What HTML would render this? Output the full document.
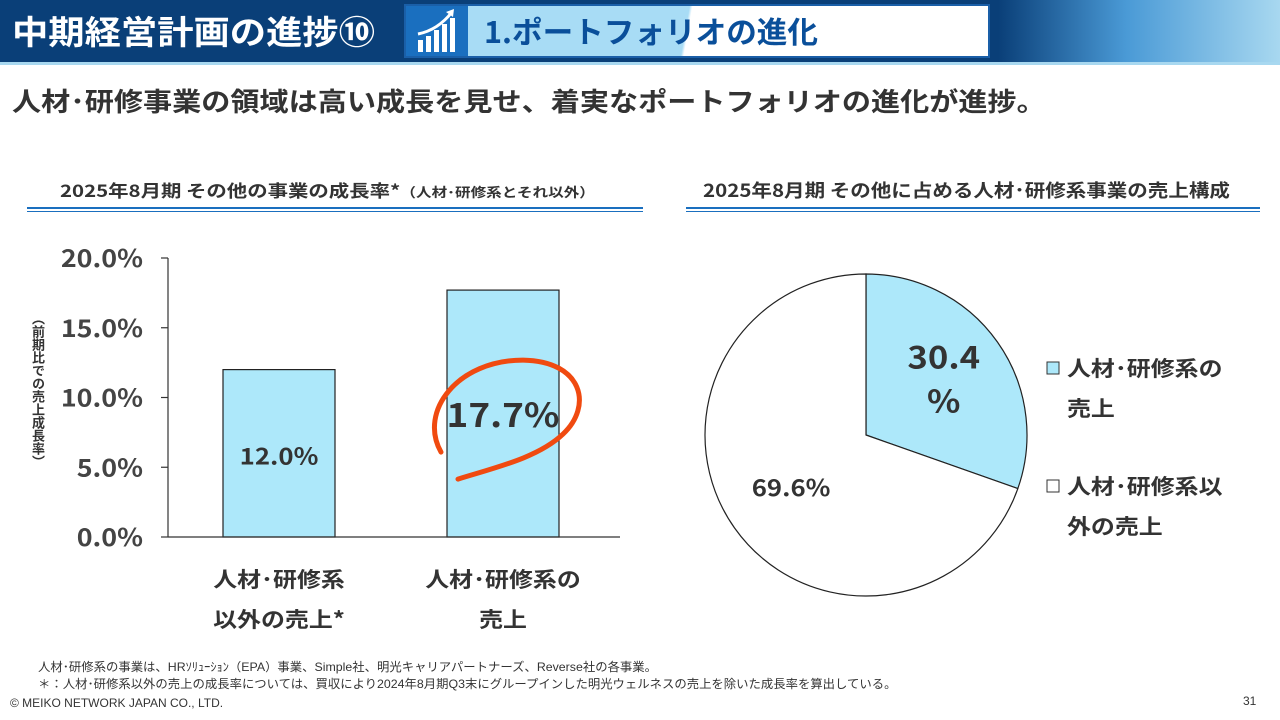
<!DOCTYPE html>
<html><head><meta charset="utf-8"><style>
body{margin:0;width:1280px;height:720px;position:relative;background:#fff;font-family:"Liberation Sans","Noto Sans CJK JP",sans-serif;overflow:hidden;color:#333}
.a{position:absolute;white-space:nowrap}
.s{transform-origin:0 0}
</style></head><body>
<div class="a" style="left:0;top:0;width:1280px;height:62px;background:linear-gradient(90deg,#0a3f78 0%,#0a3f78 78%,#4a9ad6 88%,#a8d8f0 100%)"></div>
<div class="a" style="left:0;top:62px;width:1280px;height:3px;background:#a8d8f0"></div>
<div class="a s" style="left:12px;top:10px;font-size:33px;font-weight:bold;color:#fff;font-family:'Noto Sans CJK JP',sans-serif;line-height:40px;transform:scaleX(1.1)">中期経営計画の進捗⑩</div>
<div class="a" style="left:404px;top:4px;width:586px;height:54px;background:linear-gradient(100deg,#a8dcf5 0%,#a8dcf5 48%,#fff 48.5%);border:2px solid #1a5fa8;box-sizing:border-box"></div>
<div class="a" style="left:406px;top:6px;width:62px;height:50px;background:#1a6fbf">
<svg width="62" height="50"><g fill="#fff"><rect x="12" y="34" width="5" height="12"/><rect x="20" y="30" width="5" height="16"/><rect x="28" y="24" width="5" height="22"/><rect x="36" y="18" width="5" height="28"/><rect x="44" y="12" width="5" height="34"/></g><path d="M12 28 Q32 24 46 6" stroke="#fff" stroke-width="3" fill="none"/><path d="M40 6 L48 3 L47 11 Z" fill="#fff"/></svg></div>
<div class="a s" style="left:484px;top:11px;font-size:30px;font-weight:bold;color:#0a4f9a;font-family:'Noto Sans CJK JP',sans-serif;line-height:38px;transform:scaleX(1.02)">1.ポートフォリオの進化</div>
<div class="a s" style="left:12px;top:83px;font-size:26px;font-weight:bold;color:#333;font-family:'Noto Sans CJK JP',sans-serif;line-height:36px;transform:scaleX(1.12)">人材･研修事業の領域は高い成長を見せ、着実なポートフォリオの進化が進捗。</div>

<div class="a s" style="left:60px;top:177px;font-size:17px;font-weight:bold;font-family:'Noto Sans CJK JP',sans-serif;line-height:26px;transform:scaleX(1.2)">2025年8月期 その他の事業の成長率*<span style="font-size:13px">（人材･研修系とそれ以外）</span></div>
<div class="a" style="left:27px;top:207px;width:616px;height:2px;border-top:2px solid #1a6fbf;border-bottom:1px solid #1a6fbf"></div>
<div class="a s" style="left:703px;top:177px;font-size:18px;font-weight:bold;font-family:'Noto Sans CJK JP',sans-serif;line-height:26px;transform:scaleX(1.14)">2025年8月期 その他に占める人材･研修系事業の売上構成</div>
<div class="a" style="left:686px;top:207px;width:574px;height:2px;border-top:2px solid #1a6fbf;border-bottom:1px solid #1a6fbf"></div>

<svg class="a" id="chart" style="left:0;top:0" width="1280" height="720"></svg>

<div class="a" style="left:30px;top:312px;width:16px;font-size:13px;font-weight:bold;white-space:normal;line-height:15px;text-align:center;font-family:'Noto Sans CJK JP',sans-serif;writing-mode:vertical-rl">（前期比での売上成長率）</div>

<div class="a s" style="left:38px;top:659px;font-size:12px;line-height:16px;transform:scaleX(1.03)">人材･研修系の事業は、HRｿﾘｭｰｼｮﾝ（EPA）事業、Simple社、明光キャリアパートナーズ、Reverse社の各事業。</div>
<div class="a s" style="left:38px;top:676px;font-size:12px;line-height:16px;transform:scaleX(1.03)">＊：人材･研修系以外の売上の成長率については、買収により2024年8月期Q3末にグループインした明光ウェルネスの売上を除いた成長率を算出している。</div>
<div class="a" style="left:10px;top:695px;font-size:12px;line-height:16px">© MEIKO NETWORK JAPAN CO., LTD.</div>
<div class="a" style="left:1243px;top:693px;font-size:12px;line-height:16px">31</div>

<script>
const categories=[["人材･研修系","以外の売上*"],["人材･研修系の","売上"]];
const growthValues=[12.0,17.7];
const yTicks=[0,5,10,15,20];
const pieLabels=[["人材･研修系の","売上"],["人材･研修系以","外の売上"]];
const pieShares=[30.4,69.6];

const NS="http://www.w3.org/2000/svg";
const svg=document.getElementById('chart');
function mk(t,a,p){const e=document.createElementNS(NS,t);for(const k in a)e.setAttribute(k,a[k]);(p||svg).appendChild(e);return e;}
function txt(x,yy,str,size,anchor,sx){
 const g=mk('g',{transform:`translate(${x},${yy}) scale(${sx},1)`});
 const t=mk('text',{x:0,y:0,'text-anchor':anchor,'font-size':size,'font-weight':'bold',fill:'#333','font-family':font},g);
 t.textContent=str;return t;
}
const y0=537,y1=258,axX=168;
const y=v=>y0-(v/20)*(y0-y1);
const bandW=224,bandStart=167;
const xc=i=>bandStart+bandW*(i+0.5);
const font="'Noto Sans CJK JP','Liberation Sans',sans-serif";

yTicks.forEach(t=>{
 const l=mk('line',{x1:axX-7,x2:axX,y1:y(t),y2:y(t),stroke:'#333','stroke-width':1.2});
 
 
 const tx=txt(143,y(t)+9,t.toFixed(1)+'%',24,'end',1.12);
 tx.setAttribute('fill','#444');
 
 
});
const ya=mk('line',{x1:axX,x2:axX,y1:y1,y2:y0,stroke:'#333','stroke-width':1.2});



growthValues.forEach((v,i)=>{
 const w=112;
 const r=mk('rect',{x:xc(i)-w/2,y:y(v),width:w,height:y0-y(v),fill:'#ade8fa',stroke:'#222','stroke-width':1.2});
 
 
 const big=i===1;
 const lb=txt(xc(i),big?y(v)+137:y(v)+95,v.toFixed(1)+'%',big?33:23,'middle',1.12);
 
 
 categories[i].forEach((s,j)=>{
  const c=txt(xc(i),587+j*40,s,21,'middle',1.14);
  
  
 });
});
const xa=mk('line',{x1:axX,x2:620,y1:y0,y2:y0,stroke:'#333','stroke-width':1.2});



const hx=xc(1),hy=y(growthValues[1])+126;
const hl=mk('path',{d:`M${hx-62} ${hy+36} C ${hx-85} ${hy-5}, ${hx-45} ${hy-56}, ${hx+20} ${hy-56} C ${hx+80} ${hy-55}, ${hx+90} ${hy-10}, ${hx+60} ${hy+18} C ${hx+35} ${hy+42}, ${hx-10} ${hy+52}, ${hx-45} ${hy+63}`,fill:'none',stroke:'#f04a10','stroke-width':5,'stroke-linecap':'round'});



const cx=866,cy=435,R=161;
let acc=0;
const pieFill=['#ade8fa','#ffffff'];
pieShares.forEach((s,i)=>{
 const a0=acc/100*2*Math.PI,a1=(acc+s)/100*2*Math.PI;acc+=s;
 const p=(a)=>[cx+R*Math.sin(a),cy-R*Math.cos(a)];
 const [xA,yA]=p(a0),[xB,yB]=p(a1);
 const sl=mk('path',{d:`M${cx} ${cy} L${xA} ${yA} A${R} ${R} 0 ${s>50?1:0} 1 ${xB} ${yB} Z`,fill:pieFill[i],stroke:'#222','stroke-width':1.2});
 
 
 const am=(a0+a1)/2,rr=i===0?R*0.5:R*0.57;
 const lx=cx+rr*Math.sin(am),ly=cy-rr*Math.cos(am);
 if(i===0){
  const t1=txt(lx+12,ly-20,s.toFixed(1),31,'middle',1.12);
  
  
  const t2=txt(lx+12,ly+24,'%',31,'middle',1.12);
  
  
 } else {
  const t=txt(lx,ly+8,s.toFixed(1)+'%',23,'middle',1.12);
  
  
 }
 const ly0=362+i*118;
 const sw=mk('rect',{x:1047,y:ly0,width:12,height:12,fill:pieFill[i],stroke:'#333','stroke-width':1});
 
 
 pieLabels[i].forEach((s2,j)=>{
  const t=txt(1067,ly0+14+j*40,s2,21,'start',1.14);
  
  
 });
});
</script>
</body></html>
